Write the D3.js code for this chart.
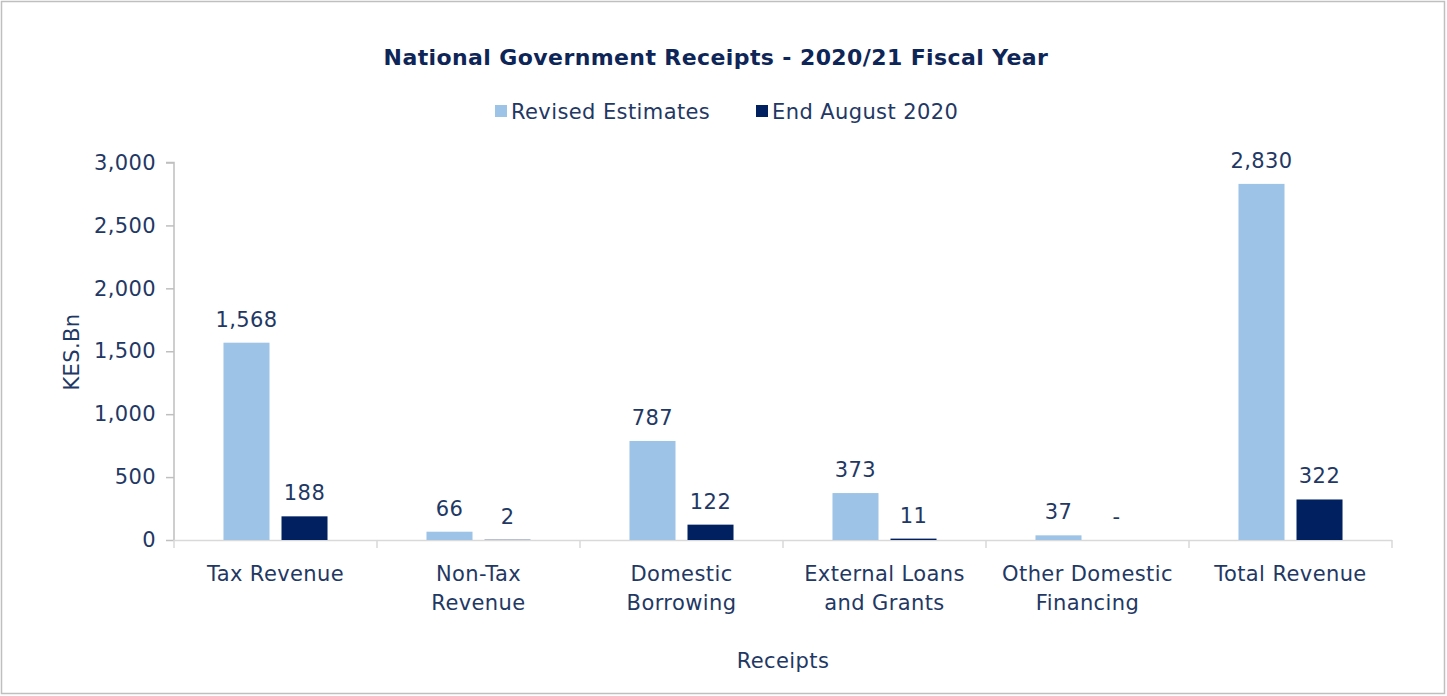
<!DOCTYPE html>
<html><head><meta charset="utf-8">
<script src="https://cdn.jsdelivr.net/npm/d3@7"></script>
<style>
html,body{margin:0;padding:0;background:#fff;}
svg text{font-family:"DejaVu Sans","Noto Sans",sans-serif;fill:#1F3864;letter-spacing:0.4px;}
</style></head>
<body>
<svg id="chart" width="1447" height="696"></svg>
<script>
const categories = [["Tax Revenue"],["Non-Tax","Revenue"],["Domestic","Borrowing"],["External Loans","and Grants"],["Other Domestic","Financing"],["Total Revenue"]];
const seriesNames = ["Revised Estimates","End August 2020"];
const revisedEstimates = [1568, 66, 787, 373, 37, 2830];
const endAugust2020 = [188, 2, 122, 11, 0, 322];
const yTicks = [0, 500, 1000, 1500, 2000, 2500, 3000];
const colors = ["#9DC3E6", "#002060"];
const textColor = "#1F3864";
const FS = 21;

const svg = d3.select("#chart");
svg.append("rect").attr("x",1.5).attr("y",1.5).attr("width",1443).attr("height",692)
  .attr("fill","#fff").attr("stroke","#BFBFBF").attr("stroke-width",1.5);

const pLeft = 174, pRight = 1392, pTop = 162.5, pBottom = 540;
const x0 = d3.scaleBand().domain(d3.range(categories.length)).range([pLeft, pRight]).paddingInner(0).paddingOuter(0);
const x1 = d3.scaleBand().domain([0,1]).range([0, x0.bandwidth()]).paddingInner(0.207).paddingOuter(0.853);
const y = d3.scaleLinear().domain([0, 3000]).range([pBottom, pTop]);

// Y axis
const yAxis = d3.axisLeft(y).tickValues(yTicks).tickSize(8).tickPadding(10).tickFormat(d3.format(","));
const ya = svg.append("g").attr("transform",`translate(${pLeft},0)`).call(yAxis);
ya.select(".domain").attr("stroke","#BFBFBF").attr("stroke-width",1.5).attr("d",`M-8,${pTop}H0V${pBottom}`);
ya.selectAll(".tick line").attr("stroke","#BFBFBF").attr("stroke-width",1.5);
ya.selectAll(".tick text").attr("font-size",FS).attr("font-family",null).style("fill",textColor);

// X axis
const xa = svg.append("g").attr("transform",`translate(0,${pBottom})`);
xa.append("line").attr("x1",pLeft).attr("x2",pRight).attr("y1",0.5).attr("y2",0.5).attr("stroke","#D9D9D9").attr("stroke-width",1.5);
const bounds = d3.range(categories.length+1).map(i => i < categories.length ? x0(i) : x0(i-1)+x0.bandwidth());
xa.selectAll("line.tk").data(bounds).join("line").attr("class","tk")
  .attr("x1",d=>d).attr("x2",d=>d).attr("y1",0).attr("y2",8).attr("stroke","#D9D9D9").attr("stroke-width",1.5);
const catG = xa.selectAll("text.cat").data(categories).join("text").attr("class","cat")
  .attr("text-anchor","middle").attr("font-size",FS)
  .attr("x",(d,i)=>x0(i)+x0.bandwidth()/2).attr("y",41);
catG.selectAll("tspan").data(d=>d).join("tspan")
  .attr("x",function(){return d3.select(this.parentNode).attr("x");})
  .attr("dy",(d,i)=>i===0?0:29).text(d=>d);

// Bars
const data = categories.map((c,i)=>[revisedEstimates[i], endAugust2020[i]]);
const groups = svg.append("g").selectAll("g").data(data).join("g")
  .attr("transform",(d,i)=>`translate(${x0(i)},0)`);
groups.selectAll("rect").data(d=>d).join("rect")
  .attr("x",(d,j)=>x1(j)).attr("width",x1.bandwidth())
  .attr("y",d=>y(d)).attr("height",d=>pBottom-y(d)).attr("fill",(d,j)=>colors[j]);
const fmt = d3.format(",");
groups.selectAll("text").data(d=>d).join("text")
  .attr("text-anchor","middle").attr("font-size",FS)
  .attr("x",(d,j)=>x1(j)+x1.bandwidth()/2).attr("y",d=>y(d)-16)
  .text(d=> d===0 ? "-" : fmt(d));

// Title
svg.append("text").attr("x",716).attr("y",65).attr("text-anchor","middle")
  .attr("font-size",22).attr("font-weight","bold").style("fill","#0E2557")
  .text("National Government Receipts - 2020/21 Fiscal Year");

// Legend
const legend = svg.append("g");
const legX = [495, 756];
seriesNames.forEach((s,i)=>{
  legend.append("rect").attr("x",legX[i]).attr("y",105).attr("width",12).attr("height",12).attr("fill",colors[i]);
  legend.append("text").attr("x",legX[i]+16).attr("y",118.5).attr("font-size",FS).text(s);
});

// Axis titles
svg.append("text").attr("transform","translate(79,352) rotate(-90)").attr("text-anchor","middle")
  .attr("font-size",FS).text("KES.Bn");
svg.append("text").attr("x",783).attr("y",668).attr("text-anchor","middle").attr("font-size",FS).text("Receipts");
</script>
</body></html>
